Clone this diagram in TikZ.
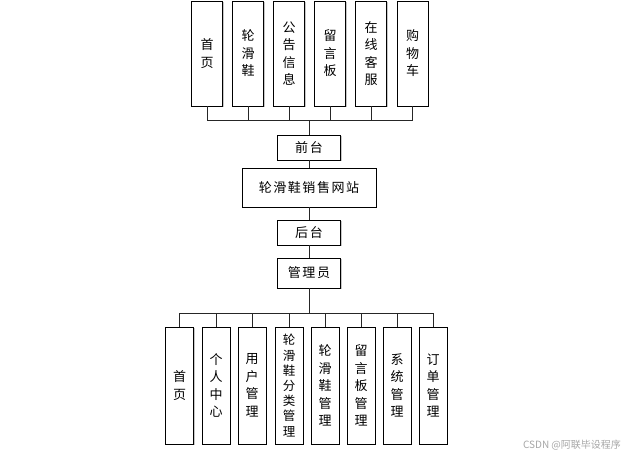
\documentclass[tikz,border=0pt]{standalone}
\usepackage{fontspec}
\newfontfamily\cjk{Noto Sans CJK SC}
\newfontfamily\cjkwide[LetterSpace=12]{Noto Sans CJK SC}
\usetikzlibrary{shadows}
\tikzset{
	boxnode/.style={
			shape=rectangle,
			draw=black,
			line width=0.9pt,
			fill=white,
			inner sep=0pt,
			align=center,
			drop shadow={shadow xshift=1.3pt, shadow yshift=-1.3pt, fill=black!22, opacity=1},
			font=\cjk\fontsize{13}{17.5}\selectfont
		},
	topnode/.style={
			boxnode,
			minimum width=31pt,
			minimum height=105pt
		},
	botnode/.style={
			boxnode,
			minimum width=28pt,
			minimum height=117pt
		},
	midnode/.style={
			boxnode,
			minimum width=63pt,
			font=\cjkwide\fontsize{13}{17.5}\selectfont
		},
	link/.style={
			draw=black!85,
			line width=0.8pt
		}
}

\begin{document}
\begin{tikzpicture}[x=1pt, y=-1pt]
  \useasboundingbox (0,0) rectangle (643,456);

  \node[topnode] (t1) at (207,53.5) {首\\页};
  \node[topnode] (t2) at (248,53.5) {轮\\滑\\鞋};
  \node[topnode] (t3) at (289,53.5) {公\\告\\信\\息};
  \node[topnode] (t4) at (330,53.5) {留\\言\\板};
  \node[topnode] (t5) at (371,53.5) {在\\线\\客\\服};
  \node[topnode] (t6) at (412.5,53.5) {购\\物\\车};

  \node[midnode, minimum height=25pt] (qiantai) at (309,147.5) {前台};
  \node[midnode, minimum width=134pt, minimum height=39pt] (site) at (309,187.5) {轮滑鞋销售网站};
  \node[midnode, minimum height=25pt] (houtai) at (309,232.5) {后台};
  \node[midnode, minimum height=30pt] (admin) at (309,273) {管理员};

  \node[botnode] (b1) at (179.5,385.5) {首\\页};
  \node[botnode] (b2) at (216,385.5) {个\\人\\中\\心};
  \node[botnode] (b3) at (252,385.5) {用\\户\\管\\理};
  \node[botnode, font=\cjk\fontsize{12.5}{15.2}\selectfont] (b4) at (289,385.5) {轮\\滑\\鞋\\分\\类\\管\\理};
  \node[botnode] (b5) at (325,385.5) {轮\\滑\\鞋\\管\\理};
  \node[botnode] (b6) at (361,385.5) {留\\言\\板\\管\\理};
  \node[botnode] (b7) at (397,385.5) {系\\统\\管\\理};
  \node[botnode] (b8) at (433,385.5) {订\\单\\管\\理};

  \coordinate (topbus) at (309,120);
  \coordinate (botbus) at (309,313);

  \draw[link] (t1.south) |- (topbus);
  \draw[link] (t2.south) |- (topbus);
  \draw[link] (t3.south) |- (topbus);
  \draw[link] (t4.south) |- (topbus);
  \draw[link] (t5.south) |- (topbus);
  \draw[link] (t6.south) |- (topbus);
  \draw[link] (topbus) -- (qiantai.north);
  \draw[link] (qiantai.south) -- (site.north);
  \draw[link] (site.south) -- (houtai.north);
  \draw[link] (houtai.south) -- (admin.north);

  \draw[link] (admin.south) -- (botbus);
  \draw[link] (botbus) -| (b1.north);
  \draw[link] (botbus) -| (b2.north);
  \draw[link] (botbus) -| (b3.north);
  \draw[link] (botbus) -| (b4.north);
  \draw[link] (botbus) -| (b5.north);
  \draw[link] (botbus) -| (b6.north);
  \draw[link] (botbus) -| (b7.north);
  \draw[link] (botbus) -| (b8.north);

  \node[font=\cjk\fontsize{10}{10}\selectfont, text=black!35, inner sep=0pt] (mark) at (572,445) {CSDN @阿联毕设程序};

\end{tikzpicture}
\end{document}
